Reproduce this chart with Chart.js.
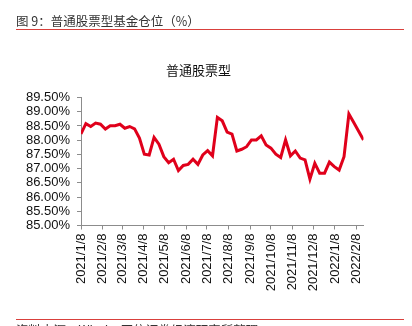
<!DOCTYPE html>
<html>
<head>
<meta charset="utf-8">
<script src="https://cdn.jsdelivr.net/npm/chart.js@4"></script>
<style>
html,body{margin:0;padding:0;background:#fff;}
#wrap{position:relative;width:412px;height:326px;overflow:hidden;}
</style>
</head>
<body>
<div id="wrap"><canvas id="c" width="412" height="326"></canvas></div>
<script>
// ---- data ----
const headerText = "图 9：普通股票型基金仓位（%）";
const chartTitle = "普通股票型";
const sourceText = "资料来源：Wind，国信证券经济研究所整理";
const seriesName = "普通股票型";
const dates = [
  "2021-01-08","2021-01-15","2021-01-22","2021-01-29",
  "2021-02-05","2021-02-12","2021-02-19","2021-02-26",
  "2021-03-05","2021-03-12","2021-03-19","2021-03-26",
  "2021-04-02","2021-04-09","2021-04-16","2021-04-23","2021-04-30",
  "2021-05-07","2021-05-14","2021-05-21","2021-05-28",
  "2021-06-04","2021-06-11","2021-06-18","2021-06-25",
  "2021-07-02","2021-07-09","2021-07-16","2021-07-23","2021-07-30",
  "2021-08-06","2021-08-13","2021-08-20","2021-08-27",
  "2021-09-03","2021-09-10","2021-09-17","2021-09-24",
  "2021-10-01","2021-10-08","2021-10-15","2021-10-22","2021-10-29",
  "2021-11-05","2021-11-12","2021-11-19","2021-11-26",
  "2021-12-03","2021-12-10","2021-12-17","2021-12-24","2021-12-31",
  "2022-01-07","2022-01-14","2022-01-21","2022-01-28",
  "2022-02-04","2022-02-11","2022-02-18"
];
const positions = [
  88.22,88.58,88.48,88.60,
  88.56,88.39,88.51,88.51,
  88.56,88.42,88.48,88.40,
  88.07,87.51,87.48,88.10,87.86,
  87.42,87.21,87.33,86.93,
  87.11,87.15,87.33,87.15,
  87.48,87.63,87.45,88.80,88.68,
  88.28,88.21,87.62,87.68,
  87.77,88.01,88.01,88.15,
  87.83,87.72,87.51,87.39,88.01,
  87.45,87.62,87.37,87.31,
  86.63,87.19,86.84,86.84,87.23,
  87.07,86.95,87.42,88.92,
  88.62,88.31,88.01
];
const tickLabels = ["2021/1/8","2021/2/8","2021/3/8","2021/4/8","2021/5/8","2021/6/8","2021/7/8",
  "2021/8/8","2021/9/8","2021/10/8","2021/11/8","2021/12/8","2022/1/8","2022/2/8"];
const yTicks = [85.0,85.5,86.0,86.5,87.0,87.5,88.0,88.5,89.0,89.5];

// ---- helpers ----
function dayNum(y,m,d){ return Date.UTC(y,m-1,d)/86400000; }
const origin = dayNum(2021,1,8);
const pts = dates.map((s,i)=>{ const p=s.split("-").map(Number); return {x: dayNum(p[0],p[1],p[2])-origin, y: positions[i]}; });
const tickDays = tickLabels.map(s=>{ const p=s.split("/").map(Number); return dayNum(p[0],p[1],p[2])-origin; });

const decor = {
  id:'decor',
  afterDraw(chart){
    const ctx = chart.ctx;
    ctx.save();
    ctx.fillStyle = '#333';
    ctx.font = '12.5px "Noto Sans CJK SC", sans-serif';
    ctx.textBaseline = 'middle';
    ctx.textAlign = 'left';
    ctx.fillText(headerText, 16, 21);
    ctx.strokeStyle = '#d9403c';
    ctx.lineWidth = 1;
    ctx.beginPath(); ctx.moveTo(16, 29.5); ctx.lineTo(404, 29.5); ctx.stroke();
    ctx.beginPath(); ctx.moveTo(16, 319.5); ctx.lineTo(404, 319.5); ctx.stroke();
    ctx.fillStyle = '#333';
    ctx.textBaseline = 'top';
    ctx.font = '12.5px "Noto Sans CJK SC", sans-serif';
    ctx.fillText(sourceText, 16, 323.5);
    ctx.fillStyle = '#111';
    ctx.textAlign = 'center';
    ctx.textBaseline = 'middle';
    ctx.font = '13px "Noto Sans CJK SC", sans-serif';
    ctx.fillText(chartTitle, 198.5, 70);
    ctx.restore();
  }
};

new Chart(document.getElementById('c'), {
  type: 'line',
  data: { datasets: [{ label: seriesName, data: pts, borderColor: '#e0001b', borderWidth: 3,
    pointRadius: 0, tension: 0, fill: false }] },
  options: {
    responsive: false, animation: false,
    layout: { padding: { top: 97.5, left: 0, right: 48.5, bottom: 0 } },
    plugins: { legend: { display: false }, title: { display: false }, tooltip: { enabled: false } },
    scales: {
      x: {
        type: 'linear', min: 0, max: pts[pts.length-1].x,
        afterFit(s){ s.height = 100.5; },
        afterBuildTicks(s){ s.ticks = tickDays.map(v=>({value:v})); },
        grid: { display: true, drawOnChartArea: false, drawTicks: true, tickLength: 4, color: '#8c8c8c' },
        border: { display: true, color: '#8c8c8c' },
        ticks: { autoSkip: false, minRotation: 90, maxRotation: 90, padding: 4, color: '#111',
          font: { family: '"Liberation Sans", Arial, sans-serif', size: 13 },
          callback(v, i){ return tickLabels[i]; } }
      },
      y: {
        min: yTicks[0], max: yTicks[yTicks.length-1],
        afterFit(s){ s.width = 81; },
        afterBuildTicks(s){ s.ticks = yTicks.map(v=>({value:v})); },
        grid: { display: true, drawOnChartArea: false, drawTicks: true, tickLength: 4, color: '#8c8c8c' },
        border: { display: true, color: '#8c8c8c' },
        ticks: { autoSkip: false, padding: 7, color: '#111',
          font: { family: '"Liberation Sans", Arial, sans-serif', size: 13 },
          callback(v){ return Number(v).toFixed(2) + '%'; } }
      }
    }
  },
  plugins: [decor]
});
</script>
</body>
</html>
